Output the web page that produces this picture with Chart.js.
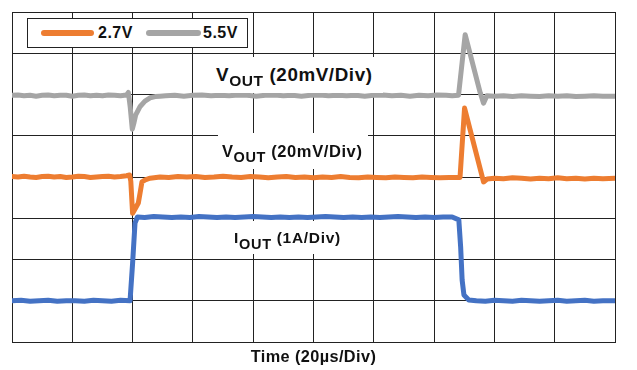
<!DOCTYPE html>
<html>
<head>
<meta charset="utf-8">
<script src="https://cdn.jsdelivr.net/npm/chart.js@4/dist/chart.umd.min.js"></script>
<style>
  html, body { margin: 0; padding: 0; background: #fff; }
  #wrap { position: relative; width: 637px; height: 370px; overflow: hidden; font-family: "Liberation Sans", Arial, sans-serif; font-weight: bold; color: #111; }
  canvas { position: absolute; left: 0; top: 0; }
  .lbl { position: absolute; background: #fff; white-space: nowrap; }
  .lbl .sub { position: relative; }
  #legend { position: absolute; left: 27px; top: 18px; width: 221px; height: 30px; box-sizing: border-box; border: 1px solid #222; background: #fff; }
  #legend .ln { position: absolute; height: 6px; border-radius: 3px; }
  #legend .tx { position: absolute; font-size: 16px; line-height: 20px; letter-spacing: 0.5px; }
  #xtitle { position: absolute; left: 12px; width: 603px; top: 346px; text-align: center; font-size: 16.3px; line-height: 20px; letter-spacing: 0.4px; }
</style>
</head>
<body>
<div id="wrap">
  <canvas id="c" width="637" height="370"></canvas>

  <div class="lbl" style="left:208px; top:57px; height:36px; line-height:36px; font-size:18.8px; letter-spacing:0.6px; padding:0 10px 0 8px;">V<span class="sub" style="font-size:15.5px; top:5px;">OUT</span> (20mV/Div)</div>

  <div class="lbl" style="left:218px; top:133px; height:36px; line-height:36px; font-size:16.5px; letter-spacing:0.6px; padding:0 5px 0 4px;">V<span class="sub" style="font-size:14.5px; top:5px;">OUT</span> (20mV/Div)</div>

  <div class="lbl" style="left:228px; top:221px; height:33px; line-height:33px; font-size:15.5px; letter-spacing:0.7px; padding:0 6px 0 6px;">I<span class="sub" style="font-size:14.5px; top:6px;">OUT</span> (1A/Div)</div>

  <div id="legend">
    <div class="ln" style="left:13px; top:10.7px; width:53px; background:#ED7D31;"></div>
    <div class="tx" style="left:70px; top:4.2px;">2.7V</div>
    <div class="ln" style="left:118px; top:10.7px; width:55px; background:#A5A5A5;"></div>
    <div class="tx" style="left:175px; top:4.2px;">5.5V</div>
  </div>

  <div id="xtitle">Time (20µs/Div)</div>
</div>

<script>
// Time axis in µs (20 µs/div, 10 divisions); vertical axis in divisions (8 divisions)
const xTicks = [0, 20, 40, 60, 80, 100, 120, 140, 160, 180, 200];
const yTicks = [0, 1, 2, 3, 4, 5, 6, 7, 8];

// VOUT at 5.5V input (gray)
const grayTime = [0,2,4,6,8,10,12,14,16,18,20,22,24,26,28,30,32,34,36,38,38.6,39.2,39.9,40.4,41.0,42.5,44.1,45.8,47.5,49.1,51,54,57,60,63,66,69,72,75,78,81,84,87,90,93,96,99,102,105,108,111,114,117,120,123,126,129,132,135,138,141,144,146,148.1,150.3,155.3,156.4,157.5,160,163,166,169,172,175,178,181,184,187,190,193,196,200];
const grayVal  = [5.98,5.99,5.97,5.98,5.96,5.98,5.99,5.97,5.98,5.98,5.96,5.98,5.99,5.97,5.98,5.97,5.99,5.98,5.97,5.99,6.05,5.70,5.16,5.30,5.50,5.71,5.84,5.92,5.95,5.96,5.97,5.98,5.96,5.98,5.99,5.97,5.98,5.97,5.99,5.98,5.96,5.98,5.99,5.97,5.98,5.96,5.98,5.99,5.97,5.98,5.97,5.98,5.96,5.98,5.99,5.97,5.98,5.96,5.98,5.97,5.99,5.98,5.97,5.98,7.45,6.04,5.79,5.97,5.96,5.97,5.95,5.97,5.96,5.95,5.97,5.96,5.97,5.95,5.96,5.97,5.96,5.96];

// VOUT at 2.7V input (orange)
const orangeTime = [0,2,4,6,8,10,12,14,16,18,20,22,24,26,28,30,32,34,36,38,39,39.4,40.0,41.0,41.9,42.5,43.1,44.2,45.8,49.1,52,55,58,61,64,67,70,73,76,79,82,85,88,91,94,97,100,103,106,109,112,115,118,121,124,127,130,133,136,139,142,145,148.6,150.1,156.4,157.6,160,163,166,169,172,175,178,181,184,187,190,193,196,200];
const orangeVal  = [4.01,4.00,4.02,4.00,3.99,4.01,4.02,4.00,4.01,3.99,4.00,4.02,4.01,3.99,4.00,4.01,4.02,4.00,4.01,4.03,4.05,3.90,3.12,3.25,3.37,3.62,3.88,3.93,3.97,4.00,3.99,4.01,4.00,4.01,3.99,4.00,4.02,4.00,3.99,4.01,4.00,3.98,4.00,4.01,3.99,4.00,3.98,4.00,3.99,4.01,3.99,3.98,4.00,3.99,3.98,4.00,3.99,3.98,4.00,3.99,3.98,3.99,3.99,5.67,3.88,3.95,3.97,3.96,3.98,3.97,3.95,3.97,3.96,3.98,3.96,3.97,3.95,3.97,3.96,3.97];

// IOUT (blue)
const blueTime = [0,3,6,9,12,15,18,21,24,27,30,33,36,39.15,40.0,40.8,41.6,44,47,50,53,56,59,62,65,68,71,74,77,80,83,86,89,92,95,98,101,104,107,110,113,116,119,122,125,128,131,134,137,140,143,146,148.2,148.8,149.3,149.9,151.5,154,157,160,163,166,169,172,175,178,181,184,187,190,193,196,200];
const blueVal  = [1.00,1.01,0.99,1.00,1.01,0.99,1.00,1.00,0.99,1.01,1.00,0.99,1.01,1.00,1.91,2.88,3.03,3.02,3.04,3.03,3.02,3.03,3.02,3.04,3.03,3.02,3.03,3.02,3.03,3.04,3.03,3.02,3.03,3.02,3.03,3.02,3.03,3.04,3.03,3.02,3.03,3.02,3.03,3.02,3.03,3.04,3.03,3.02,3.03,3.02,3.03,3.03,2.96,2.31,1.50,1.14,1.02,1.00,0.99,1.01,1.00,0.99,1.01,1.00,0.99,1.00,1.01,0.99,1.00,1.01,0.99,1.00,1.00];

const toPts = (ts, vs) => ts.map((t, i) => ({ x: t, y: vs[i] }));

const lineStyle = {
  pointRadius: 0,
  borderWidth: 5,
  tension: 0,
  fill: false,
  borderJoinStyle: 'round',
  borderCapStyle: 'round'
};

new Chart(document.getElementById('c'), {
  type: 'line',
  data: {
    datasets: [
      Object.assign({ label: '2.7V', data: toPts(orangeTime, orangeVal), borderColor: '#ED7D31' }, lineStyle),
      Object.assign({ label: '5.5V', data: toPts(grayTime, grayVal), borderColor: '#A5A5A5' }, lineStyle),
      Object.assign({ label: 'IOUT', data: toPts(blueTime, blueVal), borderColor: '#4472C4' }, lineStyle)
    ]
  },
  options: {
    responsive: false,
    animation: false,
    events: [],
    layout: { padding: { left: 12, top: 12, right: 22, bottom: 28 } },
    plugins: { legend: { display: false }, tooltip: { enabled: false } },
    scales: {
      x: {
        type: 'linear',
        min: xTicks[0], max: xTicks[xTicks.length - 1],
        afterBuildTicks: s => { s.ticks = xTicks.map(v => ({ value: v })); },
        ticks: { display: false },
        grid: { color: '#222', lineWidth: 1, drawTicks: false },
        border: { color: '#222', width: 1 }
      },
      y: {
        type: 'linear',
        min: yTicks[0], max: yTicks[yTicks.length - 1],
        afterBuildTicks: s => { s.ticks = yTicks.map(v => ({ value: v })); },
        ticks: { display: false },
        grid: { color: '#222', lineWidth: 1, drawTicks: false },
        border: { color: '#222', width: 1 }
      }
    }
  }
});
</script>
</body>
</html>
